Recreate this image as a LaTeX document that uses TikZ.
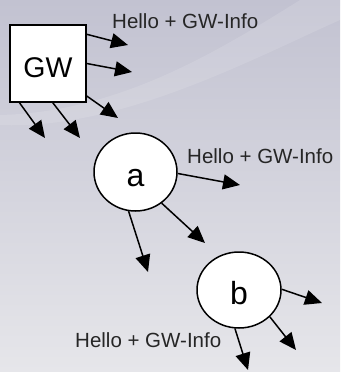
\documentclass[tikz,border=0pt]{standalone}
\usepackage{fontspec}
\setmainfont{Liberation Sans}
\usetikzlibrary{arrows.meta,shapes.geometric}

\definecolor{bgtop}{RGB}{194,194,209}
\definecolor{bgmid}{RGB}{212,212,222}
\definecolor{bgbot}{RGB}{230,230,234}

\begin{document}
\begin{tikzpicture}[x=1pt, y=-1pt,
    main/.style = {draw, fill=white, line width=1.5pt, inner sep=0pt},
    msg/.style = {-{Triangle[length=17pt,width=15pt]}, line width=1.5pt},
    info/.style = {font=\fontsize{20.5}{24}\selectfont, anchor=base west, inner sep=0pt, text=black!85}]
  % slide background
  \shade[top color=bgtop, middle color=bgmid, bottom color=bgbot] (0,0) rectangle (340,372);
  \fill[white, opacity=0.12] (0,125) .. controls (120,130) and (250,60) .. (340,20) -- (340,0) -- (300,0) .. controls (220,50) and (120,112) .. (0,115) -- cycle;
  \useasboundingbox (0,0) rectangle (340,372);

  \node[main, rectangle, minimum width=76pt, minimum height=77pt, text height=27pt, text depth=0pt, font=\fontsize{28.5}{30}\selectfont] (gw) at (48,63.5) {GW};
  \node[main, ellipse, minimum width=83pt, minimum height=78pt, text height=29pt, text depth=0pt, font=\fontsize{32}{34}\selectfont] (a) at (135.5,172) {a};
  \node[main, ellipse, minimum width=84pt, minimum height=76pt, text height=29pt, text depth=0pt, font=\fontsize{32}{34}\selectfont] (b) at (239,290) {b};

  % where the messages go
  \coordinate (g1) at (128,45);
  \coordinate (g2) at (132,72);
  \coordinate (g3) at (118,118);
  \coordinate (g4) at (45,138);
  \coordinate (g5) at (80,138);
  \coordinate (a1) at (240,185);
  \coordinate (a2) at (205,243);
  \coordinate (a3) at (148,272);
  \coordinate (b1) at (322,303);
  \coordinate (b2) at (296,350);
  \coordinate (b3) at (248,370);

  \draw[msg] (gw.37) -- (g1);
  \draw[msg] (gw.0) -- (g2);
  \draw[msg] (gw.-40) -- (g3);
  \draw[msg] (gw.234) -- (g4);
  \draw[msg] (gw.277) -- (g5);
  \draw[msg] (a.-2) -- (a1);
  \draw[msg] (a.-50) -- (a2);
  \draw[msg] (a.260) -- (a3);
  \draw[msg] (b.1) -- (b1);
  \draw[msg] (b.-41) -- (b2);
  \draw[msg] (b.264) -- (b3);

  \node[info] (l1) at (112,28) {Hello + GW-Info};
  \node[info] (l2) at (187,163) {Hello + GW-Info};
  \node[info] (l3) at (75,347) {Hello + GW-Info};
\end{tikzpicture}
\end{document}
